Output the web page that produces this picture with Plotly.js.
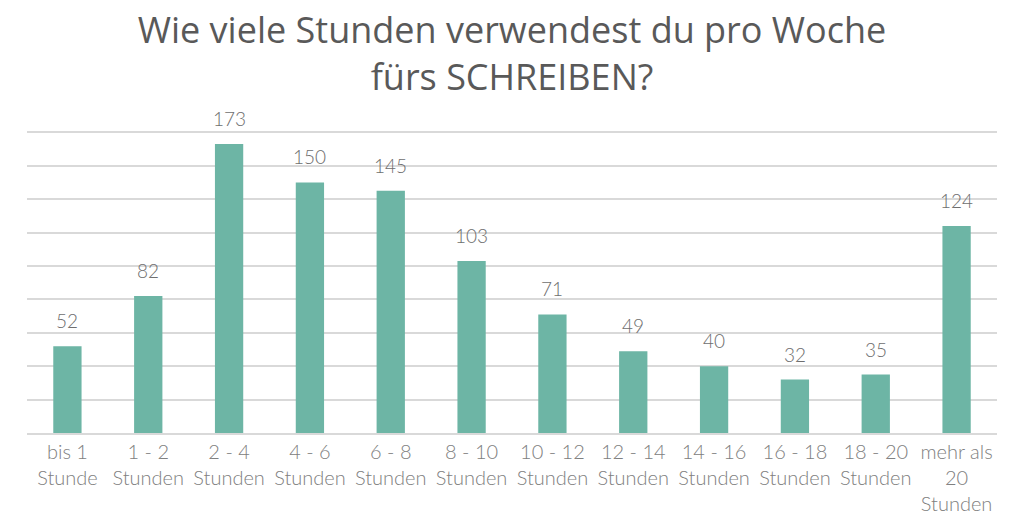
<!DOCTYPE html>
<html>
<head>
<meta charset="utf-8">
<script src="https://cdn.plot.ly/plotly-3.0.1.min.js"></script>
<style>
  html, body { margin: 0; padding: 0; background: #fff; }
  #chart { width: 1024px; height: 523px; }
</style>
</head>
<body>
<div id="chart"></div>
<script>
// Kategorien und Werte
const categories = [
    'bis 1<br>Stunde', '1 - 2<br>Stunden', '2 - 4<br>Stunden', '4 - 6<br>Stunden',
    '6 - 8<br>Stunden', '8 - 10<br>Stunden', '10 - 12<br>Stunden', '12 - 14<br>Stunden',
    '14 - 16<br>Stunden', '16 - 18<br>Stunden', '18 - 20<br>Stunden', 'mehr als<br>20<br>Stunden'
];
const values = [52, 82, 173, 150, 145, 103, 71, 49, 40, 32, 35, 124];

const barColor = '#6db5a5';
const fontFamily = 'Lato, "Open Sans", sans-serif';

const data = [{
    x: categories,
    y: values,
    type: 'bar',
    marker: { color: barColor },
    hoverinfo: 'none'
}];

// Wertebeschriftung über den Balken
const annotations = categories.map((c, i) => ({
    x: c,
    y: values[i],
    text: String(values[i]),
    showarrow: false,
    yanchor: 'bottom',
    yshift: 12,
    font: { family: fontFamily, size: 19, color: '#6e6e6e', weight: 300 }
}));

const layout = {
    width: 1024,
    height: 523,
    title: {
        text: 'Wie viele Stunden verwendest du pro Woche<br>fürs SCHREIBEN?',
        font: { family: '"Open Sans", Lato, sans-serif', size: 36, color: '#595959' },
        x: 0.5,
        xanchor: 'center',
        xref: 'paper',
        yref: 'container',
        y: 0.918,
        yanchor: 'top'
    },
    xaxis: {
        type: 'category',
        tickfont: { family: fontFamily, size: 20, color: '#808080', weight: 300 },
        showgrid: false,
        showline: true,
        linecolor: '#d9d9d9',
        linewidth: 2,
        ticks: '',
        fixedrange: true
    },
    yaxis: {
        range: [0, 182],
        dtick: 20,
        showgrid: true,
        gridcolor: '#d9d9d9',
        gridwidth: 2,
        showticklabels: false,
        zeroline: false,
        fixedrange: true
    },
    annotations: annotations,
    bargap: 0.65,
    plot_bgcolor: '#ffffff',
    paper_bgcolor: '#ffffff',
    margin: { l: 27, r: 27, t: 129, b: 90 },
    showlegend: false
};

Plotly.newPlot('chart', data, layout, { displayModeBar: false, staticPlot: true });
</script>
</body>
</html>
